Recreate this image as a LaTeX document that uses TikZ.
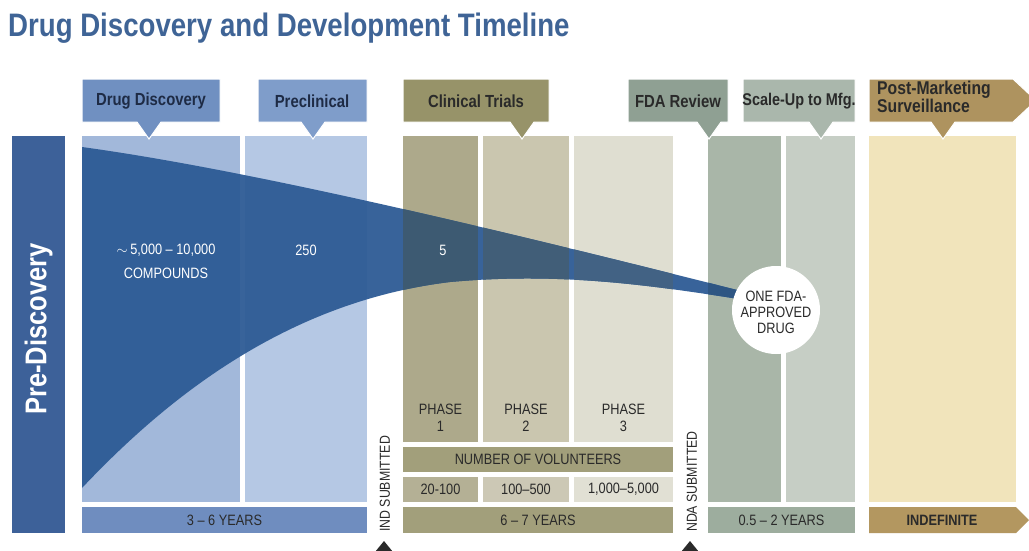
\documentclass[tikz,border=0pt]{standalone}
\usepackage{fontspec}
\setmainfont{Liberation Sans}[FakeStretch=0.85]

% palette
\definecolor{titleblue}{HTML}{3F6496}
\definecolor{prebar}{HTML}{3D6199}
\definecolor{ddhead}{HTML}{7090C1}
\definecolor{prehead}{HTML}{7F9DCA}
\definecolor{ddcol}{HTML}{A2B8DA}
\definecolor{precol}{HTML}{B5C8E4}
\definecolor{yearsblue}{HTML}{6F8DBF}
\definecolor{funnelblue}{HTML}{2C5A94}
\definecolor{fph1}{HTML}{3D5A72}
\definecolor{fph2}{HTML}{415E78}
\definecolor{fph3}{HTML}{426284}
\definecolor{fcola}{HTML}{2E5683}
\definecolor{cthead}{HTML}{979369}
\definecolor{ph1}{HTML}{ADA98B}
\definecolor{ph2}{HTML}{CAC6AF}
\definecolor{ph3}{HTML}{DFDED1}
\definecolor{olivebar}{HTML}{A29F7B}
\definecolor{num1}{HTML}{B4B095}
\definecolor{num2}{HTML}{CCC8B5}
\definecolor{num3}{HTML}{E1E0D4}
\definecolor{fdahead}{HTML}{8FA093}
\definecolor{suhead}{HTML}{AAB7AC}
\definecolor{cola}{HTML}{A9B6A8}
\definecolor{colb}{HTML}{C6CEC5}
\definecolor{yearsgreen}{HTML}{9DAD9E}
\definecolor{pmhead}{HTML}{AE935F}
\definecolor{pmcol}{HTML}{F1E4BB}
\definecolor{pmbar}{HTML}{B39760}
\definecolor{txtdark}{HTML}{2A2A2A}
\definecolor{txtnavy}{HTML}{1E2B45}

% header box with a downward pointer: left, right, pointer x, fill
\newcommand\hdrbox[4]{%
  \fill[#4, draw=white, line width=1pt] (#1,79) -- (#2,79) -- (#2,122)
    -- ({#3+12},122) -- (#3,139) -- ({#3-12},122) -- (#1,122) -- cycle;}

% outline of the attrition funnel
\def\funnelpath{(82,147) .. controls (250,170) and (500,230) .. (745,292)
  -- (745,300) .. controls (650,285) and (560,272) .. (450,282)
  .. controls (285,302) and (165,400) .. (82,488) -- cycle}

\begin{document}
\begin{tikzpicture}[x=1pt,y=-1pt,
  body/.style={font=\fontsize{15}{17}\selectfont, text=txtdark, inner sep=0pt, align=center},
  wbody/.style={body, text=white},
  hdr/.style={font=\fontsize{17.5}{16}\selectfont\bfseries, text=txtdark, inner sep=0pt, align=left},
  vlabel/.style={font=\fontsize{14.5}{15}\selectfont, text=txtdark, inner sep=0pt, rotate=90, anchor=west}]

\useasboundingbox (0,0) rectangle (1029,550);
\clip (0,0) rectangle (1029,550);
\fill[white] (0,0) rectangle (1029,550);

% title
\node[anchor=base west, inner sep=0pt, text=titleblue,
  font=\fontsize{32.5}{34}\selectfont\bfseries] (title) at (8,36)
  {Drug Discovery and Development Timeline};

% pre-discovery bar
\fill[prebar] (12,136) rectangle (65,533);
\node[rotate=90, inner sep=0pt, text=white,
  font=\fontsize{30}{32}\selectfont\bfseries] (prediscovery) at (38.5,329) {Pre-Discovery};

% discovery and preclinical columns
\fill[ddcol] (82,136) rectangle (240,502);
\fill[precol] (245,136) rectangle (367,502);
\fill[yearsblue] (82,507) rectangle (367,533);

% clinical trial columns
\fill[ph1] (403,136) rectangle (478,442);
\fill[ph2] (483,136) rectangle (569,442);
\fill[ph3] (574,136) rectangle (673,442);
\fill[olivebar] (403,447) rectangle (673,472);
\fill[num1] (403,477) rectangle (478,502);
\fill[num2] (483,477) rectangle (569,502);
\fill[num3] (574,477) rectangle (673,502);
\fill[olivebar] (403,507) rectangle (673,533);

% review and scale-up columns
\fill[cola] (708,136) rectangle (781,502);
\fill[colb] (786,136) rectangle (855,502);
\fill[yearsgreen] (708,507) rectangle (855,533);

% post-marketing column and arrow bar
\fill[pmcol] (869,136) rectangle (1016,502);
\fill[pmbar] (869,507) -- (1016,507) -- (1029,520) -- (1016,533) -- (869,533) -- cycle;

% funnel of candidate compounds
\fill[funnelblue, opacity=0.94] \funnelpath;
\begin{scope}
  \clip \funnelpath;
  \fill[fph1] (403,136) rectangle (478,442);
  \fill[fph2] (483,136) rectangle (569,442);
  \fill[fph3] (574,136) rectangle (673,442);
  \fill[fcola] (708,136) rectangle (781,502);
\end{scope}

% stage headers
\hdrbox{82}{220}{149}{ddhead}
\hdrbox{258}{367}{313}{prehead}
\hdrbox{403}{549}{522}{cthead}
\hdrbox{628}{728}{709}{fdahead}
\hdrbox{743}{855}{821}{suhead}
\fill[pmhead, draw=white, line width=1pt] (869,79) -- (1013,79) -- (1036,100.5) -- (1013,122)
  -- (955,122) -- (943,139) -- (931,122) -- (869,122) -- cycle;

\node[hdr, text=txtnavy] (hdd) at (151,101) {Drug Discovery};
\node[hdr, text=txtnavy] (hpre) at (312,101) {Preclinical};
\node[hdr] (hct) at (476,101) {Clinical Trials};
\node[hdr] (hfda) at (678,101) {FDA Review};
\node[hdr, font=\fontsize{17}{16}\selectfont\bfseries] (hsu) at (799,101) {Scale-Up to Mfg.};
\node[hdr, anchor=north west, font=\fontsize{18.5}{16.5}\selectfont\bfseries] (hpm) at (877,81) {Post-Marketing\\Surveillance};

% approval circle
\node[circle, fill=white, minimum size=88pt, inner sep=0pt] (approved) at (776,310) {};
\node[body, font=\fontsize{15}{16}\selectfont] (approvedtxt) at (776,312) {ONE FDA-\\APPROVED\\DRUG};

% counts inside the funnel
\node[wbody, font=\fontsize{15}{24}\selectfont] (compounds) at (166,261.5) {$\sim$\,5,000 -- 10,000\\COMPOUNDS};
\node[wbody] (n250) at (306,250) {250};
\node[wbody] (n5) at (443,250) {5};

% trial phases
\node[body] (p1) at (440.5,418) {PHASE\\1};
\node[body] (p2) at (526,418) {PHASE\\2};
\node[body] (p3) at (623.5,418) {PHASE\\3};
\node[body] (vol) at (538,459.5) {NUMBER OF VOLUNTEERS};
\node[body] (v1) at (440.5,489.5) {20-100};
\node[body] (v2) at (526,489.5) {100–500};
\node[body] (v3) at (623.5,489.5) {1,000–5,000};

% durations
\node[body] (y1) at (224.5,520) {3 -- 6 YEARS};
\node[body] (y2) at (538,520) {6 -- 7 YEARS};
\node[body] (y3) at (781.5,520) {0.5 -- 2 YEARS};
\node[body, font=\fontsize{15}{17}\selectfont\bfseries] (y4) at (942,520) {INDEFINITE};

% submission milestones
\node[vlabel] (ind) at (385,532) {IND SUBMITTED};
\node[vlabel] (nda) at (692,532) {NDA SUBMITTED};
\fill[txtdark] (384,541) -- (393,552) -- (375,552) -- cycle;
\fill[txtdark] (690,541) -- (699,552) -- (681,552) -- cycle;

\end{tikzpicture}
\end{document}
